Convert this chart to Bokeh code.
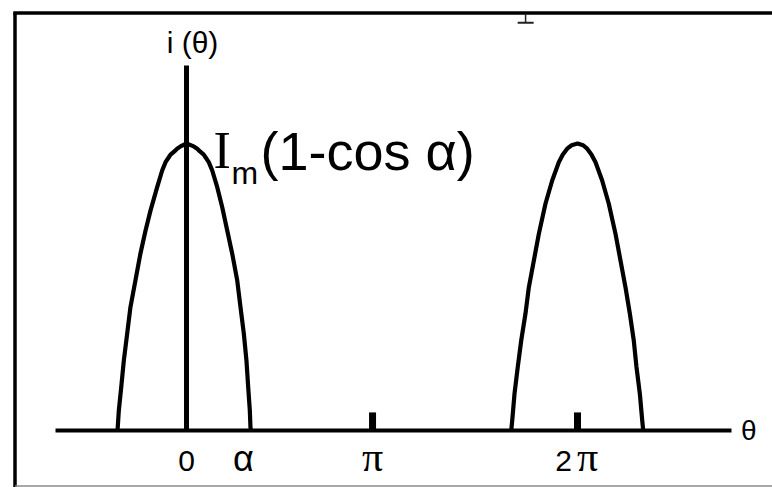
from bokeh.plotting import figure
from bokeh.models import Range1d, Label
from bokeh.embed import file_html
from bokeh.resources import INLINE

# Phase-controlled current pulses: theta in degrees, current normalised to Im(1-cos a)
pulse1_theta = [-63.6, -63.3, -62.3, -60.1, -57.7, -54.6, -51.6, -47.0, -42.4, -37.7,
                -33.1, -27.0, -22.4, -19.3, -16.3, -14.7, -10.1, -8.6, -5.5, 0.0,
                6.7, 9.9, 11.3, 15.9, 17.5, 20.5, 23.7, 28.3, 32.9,
                37.5, 42.1, 46.7, 49.7, 52.8, 55.2, 56.8, 58.3, 58.9, 59.4]
pulse1_i = [0.0, 0.011, 0.070, 0.151, 0.244, 0.338, 0.430, 0.523, 0.617, 0.697,
            0.767, 0.848, 0.906, 0.935, 0.952, 0.961, 0.976, 0.982, 0.990, 1.0,
            0.990, 0.982, 0.976, 0.961, 0.952, 0.935, 0.906, 0.848, 0.778,
            0.697, 0.616, 0.523, 0.430, 0.337, 0.244, 0.151, 0.070, 0.011, 0.0]

pulse2_theta = [299.0, 299.9, 302.0, 305.0, 308.2, 312.1, 315.2, 319.8, 324.4, 330.5,
                336.7, 342.8, 346.5, 350.5, 354.6, 360.0, 365.2, 368.9, 372.8, 376.6,
                382.7, 388.8, 395.0, 399.6, 404.2, 408.2, 411.8, 414.3, 417.4, 419.6,
                420.5]
pulse2_i = [0.0, 0.035, 0.128, 0.221, 0.314, 0.407, 0.499, 0.592, 0.685, 0.790,
            0.871, 0.935, 0.962, 0.982, 0.994, 1.0, 0.994, 0.982, 0.962, 0.935,
            0.871, 0.790, 0.685, 0.592, 0.499, 0.407, 0.314, 0.221, 0.128, 0.035,
            0.0]

tick_theta = [171.3, 360.0]
tick_labels = ["0", "α", "π", "2", "π"]
tick_label_theta = [0.0, 52.5, 171.3, 347.1, 369.2]

W, H = 772, 487
p = figure(width=W, height=H, output_backend="svg", toolbar_location=None,
           x_range=Range1d(-171.25, 539.54), y_range=Range1d(-0.1986, 1.4983),
           x_axis_location=None, y_axis_location=None, min_border=0)
p.grid.visible = False
p.outline_line_color = None
p.background_fill_color = "white"
p.border_fill_color = "white"

# framing box: left and top rules, faint rule at the bottom
p.segment(x0=[-157.9], y0=[1.455], x1=[-157.9], y1=[-0.2], line_color="black", line_width=3.5)
p.segment(x0=[-159.5], y0=[1.455], x1=[540], y1=[1.455], line_color="black", line_width=3.5)
p.segment(x0=[-157.9], y0=[-0.193], x1=[540], y1=[-0.193], line_color="#8a8a8a", line_width=1.5)

# clipped glyph fragment hanging from the top rule
p.segment(x0=[312.2], y0=[1.45], x1=[312.2], y1=[1.42], line_color="#222222", line_width=1.5)
p.segment(x0=[304.9], y0=[1.421], x1=[319.6], y1=[1.421], line_color="#222222", line_width=2)

# theta axis and current axis
p.segment(x0=[-120.6], y0=[0], x1=[501.8], y1=[0], line_color="black", line_width=4)
p.segment(x0=[0], y0=[0], x1=[0], y1=[1.272], line_color="black", line_width=5)

# tick marks at pi and 2pi
p.segment(x0=tick_theta, y0=[0] * len(tick_theta), x1=tick_theta,
          y1=[0.063] * len(tick_theta), line_color="black", line_width=7, line_cap="butt")

# current pulses
for th, cur in ((pulse1_theta, pulse1_i), (pulse2_theta, pulse2_i)):
    p.line(th, cur, line_color="black", line_width=4.2, line_join="round")

# tick labels below the theta axis
fonts = ["Liberation Sans", "Liberation Sans", "Liberation Serif", "Liberation Sans", "Liberation Serif"]
sizes = ["30px", "36px", "42px", "30px", "42px"]
label_y = [-0.108, -0.098, -0.092, -0.108, -0.092]
for lab, th, fnt, sz, ly in zip(tick_labels, tick_label_theta, fonts, sizes, label_y):
    p.add_layout(Label(x=th, y=ly, text=lab, text_font=fnt, text_font_size=sz,
                       text_align="center", text_baseline="middle", text_color="black"))

# axis names
p.add_layout(Label(x=517.6, y=0.0, text="θ", text_font="Liberation Sans",
                   text_font_size="28px", text_align="center", text_baseline="middle",
                   text_color="black"))
p.add_layout(Label(x=5.5, y=1.352, text="i (θ)", text_font="Liberation Sans",
                   text_font_size="30px", text_align="center", text_baseline="middle",
                   text_color="black"))

# peak value annotation Im(1-cos a)
p.add_layout(Label(x=24.9, y=0.975, text="I", text_font="Liberation Serif",
                   text_font_size="52px", text_align="left", text_baseline="alphabetic",
                   text_color="black"))
p.add_layout(Label(x=41.4, y=0.898, text="m", text_font="Liberation Sans",
                   text_font_size="32px", text_align="left", text_baseline="alphabetic",
                   text_color="black"))
p.add_layout(Label(x=68.1, y=0.975, text="(1-cos α)", text_font="Liberation Sans",
                   text_font_size="54px", text_align="left", text_baseline="alphabetic",
                   text_color="black"))

open("out.html", "w").write(file_html(p, INLINE))
